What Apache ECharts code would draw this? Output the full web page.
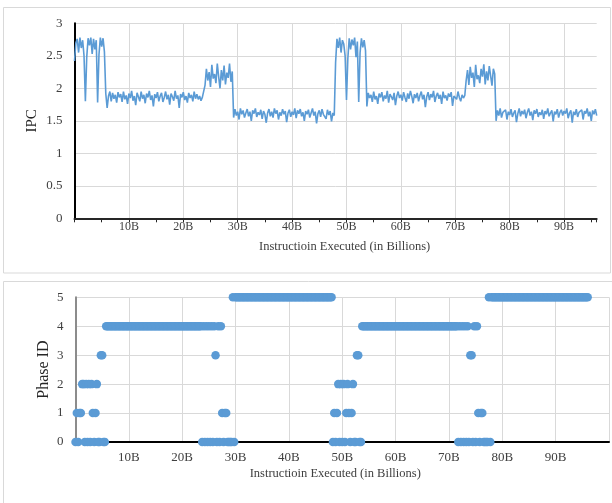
<!DOCTYPE html>
<html>
<head>
<meta charset="utf-8">
<script src="https://cdn.jsdelivr.net/npm/echarts@6/dist/echarts.min.js"></script>
<style>
  html, body { margin: 0; padding: 0; background: #fff; }
  #chart { width: 612px; height: 503px; }
</style>
</head>
<body>
<div id="chart"></div>
<script>
// sample spacing of both traces, in billions of instructions
const STEP = 0.25;

// IPC per sample (0B .. 96B)
const ipcValues = [
  // 0 - 5.5B
  2.42, 2.70, 2.76, 2.55, 2.78, 2.62, 2.74, 2.50, 1.80, 2.48,
  2.77, 2.66, 2.78, 2.53, 2.76, 2.60, 2.74, 1.78, 2.52, 2.78,
  2.64, 2.77, 2.56,
  // 5.75 - 23.75B
  1.92, 1.70, 1.88, 1.95, 1.80, 1.93, 1.84, 1.90, 1.78, 1.94,
  1.86, 1.91, 1.79, 1.95, 1.83, 1.89, 1.76, 1.92, 1.85, 1.96,
  1.81, 1.88, 1.74, 1.93, 1.87, 1.80, 1.95, 1.84, 1.90, 1.77,
  1.92, 1.86, 1.96, 1.82, 1.89, 1.72, 1.91, 1.85, 1.94, 1.80,
  1.88, 1.93, 1.79, 1.86, 1.95, 1.83, 1.90, 1.75, 1.92, 1.87,
  1.81, 1.96, 1.84, 1.89, 1.70, 1.91, 1.86, 1.94, 1.82, 1.88,
  1.78, 1.93, 1.85, 1.90, 1.80, 1.95, 1.84, 1.91, 1.83, 1.88,
  1.81, 1.86, 1.84,
  // 24 - 29B
  2.05, 2.30, 2.12, 2.25, 2.02, 2.36, 2.15, 2.22, 2.08, 2.38,
  2.18, 2.00, 2.28, 2.12, 2.35, 2.06, 2.24, 2.16, 2.38, 2.10,
  2.26,
  // 29.25 - 47.75B
  1.55, 1.68, 1.58, 1.64, 1.52, 1.69, 1.60, 1.66, 1.55, 1.62,
  1.68, 1.57, 1.64, 1.50, 1.66, 1.61, 1.69, 1.56, 1.63, 1.59,
  1.67, 1.53, 1.65, 1.60, 1.47, 1.62, 1.68, 1.57, 1.64, 1.55,
  1.69, 1.61, 1.66, 1.52, 1.63, 1.58, 1.68, 1.60, 1.65, 1.48,
  1.62, 1.67, 1.56, 1.64, 1.59, 1.69, 1.54, 1.66, 1.61, 1.68,
  1.57, 1.63, 1.50, 1.65, 1.60, 1.67, 1.55, 1.62, 1.69, 1.58,
  1.64, 1.46, 1.61, 1.66, 1.56, 1.68, 1.60, 1.63, 1.53, 1.67,
  1.59, 1.65, 1.49, 1.62, 1.58,
  // 48 - 53.5B
  2.40, 2.76, 2.62, 2.78, 2.55, 2.74, 2.68, 2.50, 1.82, 2.46,
  2.77, 2.60, 2.75, 2.66, 2.78, 2.48, 2.72, 1.79, 2.55, 2.77,
  2.63, 2.74, 2.58,
  // 53.75 - 71.75B
  1.72, 1.93, 1.85, 1.90, 1.79, 1.95, 1.83, 1.88, 1.76, 1.92,
  1.86, 1.94, 1.80, 1.89, 1.84, 1.96, 1.78, 1.91, 1.87, 1.82,
  1.93, 1.74, 1.88, 1.95, 1.85, 1.90, 1.81, 1.94, 1.86, 1.79,
  1.92, 1.84, 1.96, 1.88, 1.77, 1.91, 1.85, 1.93, 1.80, 1.89,
  1.95, 1.83, 1.90, 1.71, 1.87, 1.94, 1.82, 1.91, 1.86, 1.96,
  1.79, 1.88, 1.93, 1.84, 1.90, 1.76, 1.95, 1.85, 1.89, 1.81,
  1.92, 1.87, 1.94, 1.73, 1.88, 1.91, 1.83, 1.95, 1.86, 1.80,
  1.90, 1.85, 1.89,
  // 72 - 77.25B
  2.12, 2.28, 2.05, 2.33, 2.16, 2.24, 2.02, 2.36, 2.14, 2.20,
  2.08, 2.30, 2.18, 2.37, 2.06, 2.26, 2.12, 2.34, 2.19, 2.04,
  2.30, 2.22,
  // 77.5 - 96B
  1.50, 1.66, 1.58, 1.69, 1.55, 1.63, 1.60, 1.67, 1.52, 1.64,
  1.59, 1.68, 1.56, 1.62, 1.66, 1.48, 1.61, 1.69, 1.57, 1.65,
  1.60, 1.67, 1.54, 1.63, 1.69, 1.58, 1.64, 1.51, 1.66, 1.61,
  1.68, 1.56, 1.63, 1.59, 1.67, 1.53, 1.65, 1.60, 1.69, 1.57,
  1.62, 1.66, 1.49, 1.64, 1.60, 1.68, 1.55, 1.63, 1.67, 1.58,
  1.65, 1.61, 1.69, 1.54, 1.62, 1.66, 1.47, 1.64, 1.59, 1.68,
  1.56, 1.63, 1.60, 1.67, 1.52, 1.65, 1.61, 1.69, 1.57, 1.64,
  1.50, 1.66, 1.60, 1.68, 1.58
];

// phase id per sample, same spacing as ipcValues
const phaseIds = [
  // 0 - 5.5B
  0,1,0,1,1,2,2,0,2,0, 2,0,2,1,0,1,2,0,0,3, 3,0,0,
  // 5.75 - 23.5B
  4,4,4,4,4,4,4,4,4,4,4,4,4,4,4,4,4,4,4,4,4,4,4,4,
  4,4,4,4,4,4,4,4,4,4,4,4,4,4,4,4,4,4,4,4,4,4,4,4,
  4,4,4,4,4,4,4,4,4,4,4,4,4,4,4,4,4,4,4,4,4,4,4,4,
  // 23.75 - 29.75B
  0,4,0,4,0,4,0,4,0,4, 3,0,4,0,4,1,0,1,1,0, 0,0,0,5,0,
  // 30 - 48B
  5,5,5,5,5,5,5,5,5,5,5,5,5,5,5,5,5,5,5,5,5,5,5,5,
  5,5,5,5,5,5,5,5,5,5,5,5,5,5,5,5,5,5,5,5,5,5,5,5,
  5,5,5,5,5,5,5,5,5,5,5,5,5,5,5,5,5,5,5,5,5,5,5,5,
  5,
  // 48.25 - 53.5B
  0,1,0,1,2,0,2,0,2,0, 1,2,1,0,1,2,0,0,3,3, 0,0,
  // 53.75 - 71.5B
  4,4,4,4,4,4,4,4,4,4,4,4,4,4,4,4,4,4,4,4,4,4,4,4,
  4,4,4,4,4,4,4,4,4,4,4,4,4,4,4,4,4,4,4,4,4,4,4,4,
  4,4,4,4,4,4,4,4,4,4,4,4,4,4,4,4,4,4,4,4,4,4,4,4,
  // 71.75 - 77.75B
  0,4,0,4,0,4,0,4,0,3, 3,0,4,0,4,1,0,1,1,0, 0,0,0,5,0,
  // 78 - 96B
  5,5,5,5,5,5,5,5,5,5,5,5,5,5,5,5,5,5,5,5,5,5,5,5,
  5,5,5,5,5,5,5,5,5,5,5,5,5,5,5,5,5,5,5,5,5,5,5,5,
  5,5,5,5,5,5,5,5,5,5,5,5,5,5,5,5,5,5,5,5,5,5,5,5,
  5
];

const xTitle = 'Instructioin Executed (in Billions)';
const ipcTitle = 'IPC';
const phaseTitle = 'Phase ID';

const FONT = 'Liberation Serif';
const BLUE = '#5B9BD5';
const GRID = '#d9d9d9';
const TEXT = '#404040';

const chart = echarts.init(document.getElementById('chart'), null, { renderer: 'canvas' });

const ipcData = ipcValues.map((v, i) => [i * STEP, v]);
const phaseData = phaseIds.map((v, i) => [i * STEP, v]);

const billions = v => (v > 0 && v < 100 && v % 10 === 0) ? v + 'B' : '';

const option = {
  backgroundColor: '#fff',
  animation: false,
  textStyle: { fontFamily: FONT },
  graphic: [
    { type: 'rect', shape: { x: 3.5, y: 7.5, width: 607, height: 265.5 },
      style: { fill: 'none', stroke: GRID, lineWidth: 1 }, silent: true, z: -10 },
    { type: 'rect', shape: { x: 3.5, y: 281.5, width: 640, height: 260 },
      style: { fill: 'none', stroke: GRID, lineWidth: 1 }, silent: true, z: -10 }
  ],
  grid: [
    { left: 74.5, top: 23.3, width: 522.2, height: 195 },
    { left: 75.5, top: 297.3, width: 545, height: 144.7 }
  ],
  xAxis: [
    { // top: ticks every 5B, labels every 10B
      type: 'value', gridIndex: 0, min: 0, max: 96, interval: 5,
      axisLine: { show: true, lineStyle: { color: '#262626', width: 2 } },
      axisTick: { show: true, length: 4, lineStyle: { color: '#262626', width: 1 } },
      axisLabel: { formatter: billions, color: TEXT, fontFamily: FONT, fontSize: 12, margin: 3 },
      splitLine: { show: false },
      name: xTitle, nameLocation: 'middle', nameGap: 22, nameMoveOverlap: false,
      nameTextStyle: { fontFamily: FONT, fontSize: 12.5, color: TEXT, padding: [0, 0, 0, 18] }
    },
    { // top: vertical grid lines every 10B
      type: 'value', gridIndex: 0, min: 0, max: 96, interval: 10,
      axisLine: { show: false }, axisTick: { show: false }, axisLabel: { show: false },
      splitLine: { show: true, showMinLine: false, showMaxLine: false, lineStyle: { color: GRID, width: 1 } }
    },
    { // bottom
      type: 'value', gridIndex: 1, min: 0, max: 100, interval: 10,
      axisLine: { show: true, lineStyle: { color: '#000', width: 2 } },
      axisTick: { show: false },
      axisLabel: { formatter: billions, color: TEXT, fontFamily: FONT, fontSize: 13, margin: 9 },
      splitLine: { show: true, showMinLine: false, lineStyle: { color: GRID, width: 1 } },
      name: xTitle, nameLocation: 'middle', nameGap: 25, nameMoveOverlap: false,
      nameTextStyle: { fontFamily: FONT, fontSize: 12.5, color: TEXT, padding: [0, 14, 0, 0] }
    }
  ],
  yAxis: [
    {
      type: 'value', gridIndex: 0, min: 0, max: 3, interval: 0.5,
      axisLine: { show: true, lineStyle: { color: '#000', width: 2 } },
      axisTick: { show: false },
      axisLabel: { color: TEXT, fontFamily: FONT, fontSize: 13, margin: 12 },
      splitLine: { show: true, lineStyle: { color: GRID, width: 1 } },
      name: ipcTitle, nameLocation: 'middle', nameGap: 35, nameMoveOverlap: false,
      nameTextStyle: { fontFamily: FONT, fontSize: 15, color: '#262626' }
    },
    {
      type: 'value', gridIndex: 1, min: 0, max: 5, interval: 1,
      axisLine: { show: true, lineStyle: { color: '#8c8c8c', width: 2 } },
      axisTick: { show: false },
      axisLabel: { color: TEXT, fontFamily: FONT, fontSize: 13, margin: 12 },
      splitLine: { show: true, lineStyle: { color: GRID, width: 1 } },
      name: phaseTitle, nameLocation: 'middle', nameGap: 24, nameMoveOverlap: false,
      nameTextStyle: { fontFamily: FONT, fontSize: 16, color: '#262626' }
    }
  ],
  series: [
    {
      name: 'IPC', type: 'line', xAxisIndex: 0, yAxisIndex: 0,
      data: ipcData, showSymbol: false, symbol: 'none',
      lineStyle: { color: BLUE, width: 1.6 }, z: 3
    },
    {
      name: 'Phase ID', type: 'scatter', xAxisIndex: 2, yAxisIndex: 1,
      data: phaseData, symbolSize: 8.5,
      itemStyle: { color: BLUE, opacity: 1 }, z: 3
    }
  ]
};

chart.setOption(option);
</script>
</body>
</html>
